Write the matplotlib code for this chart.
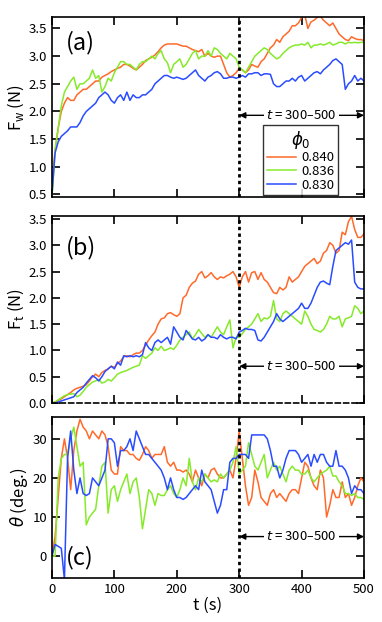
import numpy as np
import matplotlib
matplotlib.use("Agg")
from matplotlib import pyplot as plt

plt.rcParams["font.family"] = ["Noto Sans CJK JP", "DejaVu Sans"]
plt.rcParams["mathtext.fontset"] = "dejavusans"

# time axis (s), 5 s steps
t = np.arange(0, 501, 5)

labels = ["0.840", "0.836", "0.830"]
colors = ["#ff6a2a", "#86ea2a", "#2a4cff"]

# (a) F_w (N)
fw_840 = [0.7, 1.3, 1.7, 2.0, 2.15, 2.25, 2.2, 2.2, 2.3, 2.35, 2.4, 2.4, 2.45, 2.5, 2.55, 2.55,
          2.62, 2.65, 2.68, 2.72, 2.75, 2.78, 2.8, 2.85, 2.85, 2.82, 2.78, 2.75, 2.8, 2.85, 2.92,
          2.95, 2.98, 3.02, 3.08, 3.15, 3.2, 3.22, 3.22, 3.22, 3.22, 3.2, 3.18, 3.18, 3.15, 3.12,
          3.1, 3.08, 3.12, 3.0, 3.05, 3.0, 2.98, 3.0, 3.0, 2.85, 2.7, 2.62, 2.65, 2.7, 2.78,
          2.75, 2.7, 2.75, 2.85, 2.82, 2.8, 2.9, 2.95, 3.05, 3.15, 3.2, 3.3, 3.25, 3.35, 3.4,
          3.45, 3.55, 3.55, 3.6, 3.7, 3.75, 3.5, 3.62, 3.65, 3.7, 3.72, 3.65, 3.6, 3.55, 3.6,
          3.5, 3.4, 3.35, 3.3, 3.28, 3.35, 3.32, 3.3, 3.3, 3.28]
fw_836 = [0.4, 1.3, 1.7, 2.1, 2.35, 2.45, 2.55, 2.62, 2.4, 2.5, 2.5, 2.55, 2.6, 2.75, 2.6, 2.65,
          2.35, 2.45, 2.6, 2.55, 2.7, 2.8, 2.9, 2.9, 2.85, 2.85, 2.8, 2.75, 2.85, 2.9, 2.9,
          2.95, 3.0, 2.95, 3.05, 3.1, 2.95, 2.88, 2.7, 2.85, 2.9, 2.95, 2.8, 2.85, 2.95, 3.05,
          3.1, 2.95, 3.0, 3.0, 3.1, 3.0, 3.15, 3.12, 3.05, 3.0, 2.95, 3.05, 3.0, 2.95, 2.8,
          2.75, 2.7, 2.8, 2.9, 3.0, 3.05, 3.1, 3.15, 3.12, 3.05, 3.0, 2.95, 2.98, 3.05, 3.1,
          3.15, 3.18, 3.2, 3.2, 3.22, 3.2, 3.25, 3.15, 3.2, 3.2, 3.22, 3.2, 3.22, 3.25, 3.2,
          3.22, 3.25, 3.25, 3.22, 3.25, 3.24, 3.25, 3.24, 3.25, 3.25]
fw_830 = [0.5, 1.25, 1.45, 1.55, 1.6, 1.65, 1.72, 1.72, 1.72, 1.8, 1.92, 2.0, 2.05, 2.1, 2.15, 2.25,
          2.3, 2.35, 2.3, 2.2, 2.15, 2.25, 2.3, 2.2, 2.35, 2.2, 2.3, 2.25, 2.25, 2.3, 2.3,
          2.35, 2.4, 2.5, 2.55, 2.6, 2.65, 2.65, 2.62, 2.6, 2.62, 2.6, 2.58, 2.6, 2.65, 2.7,
          2.75, 2.65, 2.6, 2.55, 2.62, 2.65, 2.7, 2.72, 2.68, 2.6, 2.6, 2.62, 2.62, 2.6, 2.62,
          2.65, 2.62, 2.68, 2.68, 2.7, 2.7, 2.65, 2.68, 2.68, 2.67, 2.5, 2.45, 2.45, 2.5, 2.55,
          2.55, 2.6, 2.55, 2.62, 2.65, 2.55, 2.6, 2.65, 2.7, 2.72, 2.68, 2.75, 2.8, 2.85, 2.92,
          2.95, 2.9, 2.85, 2.4, 2.5, 2.55, 2.65, 2.55, 2.6, 2.55]

# (b) F_t (N)
ft_840 = [0.0, 0.02, 0.05, 0.08, 0.12, 0.16, 0.2, 0.25, 0.28, 0.3, 0.32, 0.35, 0.42, 0.5, 0.55, 0.5,
          0.58, 0.62, 0.65, 0.7, 0.68, 0.75, 0.8, 0.88, 0.9, 0.88, 0.92, 0.95, 0.95, 1.0, 1.1,
          1.2, 1.28, 1.35, 1.5, 1.6, 1.62, 1.7, 1.72, 1.68, 1.65, 1.7, 2.0, 2.05, 2.2, 2.28,
          2.32, 2.45, 2.5, 2.38, 2.42, 2.48, 2.4, 2.35, 2.4, 2.38, 2.42, 2.45, 2.5, 2.4, 2.2,
          2.4, 2.5, 2.3, 2.48, 2.5, 2.35, 2.48, 2.35, 2.3, 2.2, 2.1, 2.08, 2.2, 2.15, 2.2,
          2.4, 2.3, 2.35, 2.4, 2.5, 2.6, 2.65, 2.7, 2.75, 2.65, 2.7, 2.85, 2.9, 3.05, 3.0,
          2.85, 2.9, 3.25, 3.2, 3.45, 3.55, 3.3, 3.15, 3.15, 3.22]
ft_836 = [0.0, 0.02, 0.06, 0.1, 0.14, 0.16, 0.17, 0.18, 0.12, 0.15, 0.22, 0.3, 0.35, 0.4, 0.42, 0.45,
          0.38, 0.4, 0.45, 0.42, 0.48, 0.55, 0.58, 0.6, 0.62, 0.65, 0.68, 0.7, 0.72, 0.9, 0.85,
          0.9, 0.95, 1.05, 1.0, 1.08, 1.0, 1.02, 1.05, 1.02, 1.1, 1.2, 1.25, 1.3, 1.35, 1.22,
          1.3, 1.4, 1.32, 1.25, 1.3, 1.25, 1.35, 1.45, 1.35, 1.3, 1.45, 1.58, 1.05, 1.25, 1.25,
          1.32, 1.4, 1.45, 1.5, 1.6, 1.7, 1.55, 1.62, 1.6, 1.65, 1.95, 1.6, 1.55, 1.7, 1.75,
          1.7, 1.65, 1.6, 1.55, 1.5, 1.75, 1.65, 1.5, 1.4, 1.38, 1.35, 1.4, 1.5, 1.65, 1.6,
          1.6, 1.65, 1.45, 1.6, 1.62, 1.65, 1.85, 1.8, 1.7, 1.75]
ft_830 = [0.0, 0.0, 0.02, 0.04, 0.06, 0.08, 0.1, 0.12, 0.2, 0.25, 0.3, 0.38, 0.45, 0.52, 0.48, 0.42,
          0.5, 0.6, 0.65, 0.7, 0.65, 0.78, 0.72, 0.9, 0.88, 0.9, 0.88, 0.9, 0.88, 0.92, 1.15,
          1.05, 1.0, 1.15, 1.2, 1.15, 1.2, 1.25, 1.12, 1.45, 1.35, 1.25, 1.2, 1.38, 1.3, 1.22,
          1.2, 1.25, 1.18, 1.22, 1.3, 1.25, 1.25, 1.22, 1.3, 1.25, 1.22, 1.25, 1.25, 1.22, 1.35,
          1.38, 1.42, 1.4, 1.4, 1.38, 1.2, 1.18, 1.25, 1.35, 1.45, 1.55, 1.7, 1.6, 1.55, 1.6,
          1.65, 1.7, 1.75, 1.8, 1.9, 1.8, 1.8, 1.9, 2.05, 2.2, 2.3, 2.32, 2.28, 2.25, 2.6,
          2.9, 2.95, 3.0, 3.05, 3.02, 3.1, 2.3, 2.2, 2.17, 2.17]

# (c) theta (deg.)
th_840 = [0, 5, 15, 25, 30, 25, 17, 27, 32, 35, 33, 32, 30, 32, 31, 30, 32, 31, 28, 22, 21,
          21, 28, 27, 27, 26, 26, 25, 24.5, 26, 28, 27, 25, 26, 26, 26, 28, 24, 23, 24, 22,
          22, 21.5, 22, 21, 19, 22, 20, 18, 21, 20, 22, 22.5, 21, 20, 20, 21, 22, 20, 25, 32,
          25, 18, 13, 15, 22, 19, 15, 14, 13, 16, 17, 15, 16, 15, 14, 16, 17, 17, 16, 20,
          24, 23, 20, 18, 17, 22, 20, 10, 13, 17, 15, 15, 19, 15, 16, 13, 15, 18, 20, 19]
th_836 = [0, 0, 20, 25, 26, 26, 30, 33, 28, 23, 24, 8, 10, 11, 12, 18, 23, 24, 11, 17, 18,
          14, 17, 19, 21, 16, 19, 20, 15, 7, 12, 17, 16, 13, 16, 15.5, 15.5, 17, 18, 16, 15,
          17, 20, 18, 25, 19, 17, 20, 19, 21, 20, 19, 19.5, 19, 21, 20, 21, 22, 24, 28, 21,
          22, 23, 29, 26, 23, 22, 24, 26, 20, 22, 24, 22, 23, 21, 19, 22, 23, 22, 22, 21,
          21, 22, 20, 19, 20, 21, 21.5, 22, 23, 20.5, 20.5, 19, 18, 16, 16, 15.5, 16, 15, 15, 14.5]
th_830 = [0, 3, 2.5, 2, -6, 25, 32, 22, 16, 20, 16, 15.5, 16, 20, 19, 18, 20, 22, 30, 30, 29,
          23, 27, 27, 28, 30, 27, 32, 30, 28, 26, 26, 25, 24, 23, 22, 20, 17, 20, 17, 15,
          15, 14.5, 15, 16, 17, 18, 17, 22, 19, 18, 17, 14, 11, 13, 17, 17, 24, 25, 25, 26,
          26, 26, 25, 31, 31, 31, 31, 31, 30, 27, 23, 23, 20, 22, 25, 27, 27, 27, 26, 24,
          25, 26, 23, 26, 24, 26, 26, 24, 23, 23, 27, 23, 23, 22, 20, 16, 18, 17, 17, 16]

panels = [
    ([fw_840, fw_836, fw_830], (0.45, 3.7), [0.5, 1.0, 1.5, 2.0, 2.5, 3.0, 3.5], "%.1f",
     r"F$_\mathregular{w}$ (N)", "(a)", (22, 3.25), 1.93),
    ([ft_840, ft_836, ft_830], (0.0, 3.56), [0.0, 0.5, 1.0, 1.5, 2.0, 2.5, 3.0, 3.5], "%.1f",
     r"F$_\mathregular{t}$ (N)", "(b)", (22, 2.95), 0.7),
    ([th_840, th_836, th_830], (-5.6, 35.6), [0, 10, 20, 30], "%d",
     r"$\theta$ (deg.)", "(c)", (22, -0.5), 5.0),
]
boxes = [(0.683, 0.289), (0.352, 0.301), (0.0707, 0.259)]

fig = plt.figure(figsize=(3.82, 6.22), dpi=100)
axes = []
for (series, ylim, yticks, fmt, ylabel, tag, tagpos, arrow_y), (y0, h) in zip(panels, boxes):
    ax = fig.add_axes([0.136, y0, 0.817, h])
    for ys, c, lab in zip(series, colors, labels):
        ax.plot(t, ys, color=c, lw=1.1, label=lab)
    ax.axvline(300, color="k", lw=2, ls=(0, (1.2, 1.2)), zorder=5)
    ax.set_xlim(0, 500)
    ax.set_ylim(*ylim)
    ax.set_yticks(yticks)
    ax.set_yticklabels([fmt % v for v in yticks])
    ax.set_xticks([0, 100, 200, 300, 400, 500])
    ax.tick_params(direction="in", top=True, right=True, length=6, width=1.2,
                   labelsize=9.5)
    for s in ax.spines.values():
        s.set_linewidth(1.2)
    ax.set_ylabel(ylabel, fontsize=12, labelpad=2)
    ax.text(tagpos[0], tagpos[1], tag, fontsize=17, va="center", ha="left")
    ax.annotate("", xy=(300, arrow_y), xytext=(500, arrow_y),
                arrowprops=dict(arrowstyle="<|-|>", color="k", lw=1,
                                shrinkA=0, shrinkB=0, mutation_scale=9))
    ax.text(400, arrow_y, "$t$ = 300–500", ha="center", va="center", fontsize=9.5,
            bbox=dict(facecolor="white", edgecolor="none", pad=1.5), zorder=6)
    axes.append(ax)

axes[0].tick_params(labelbottom=False)
axes[1].tick_params(labelbottom=False)
axes[1].spines["bottom"].set_linestyle((0, (3, 2)))
axes[2].set_xlabel("t (s)", fontsize=12, labelpad=1)

leg = axes[0].legend(title=r"$\phi_0$", loc="lower right", bbox_to_anchor=(0.915, 0.012),
                     fontsize=9.5, title_fontsize=12, frameon=True, fancybox=False,
                     edgecolor="k", handlelength=2.2, borderpad=0.25, labelspacing=0.05,
                     handletextpad=0.4, borderaxespad=0)
leg.get_frame().set_linewidth(1.0)

fig.savefig("out.png", dpi=100)
